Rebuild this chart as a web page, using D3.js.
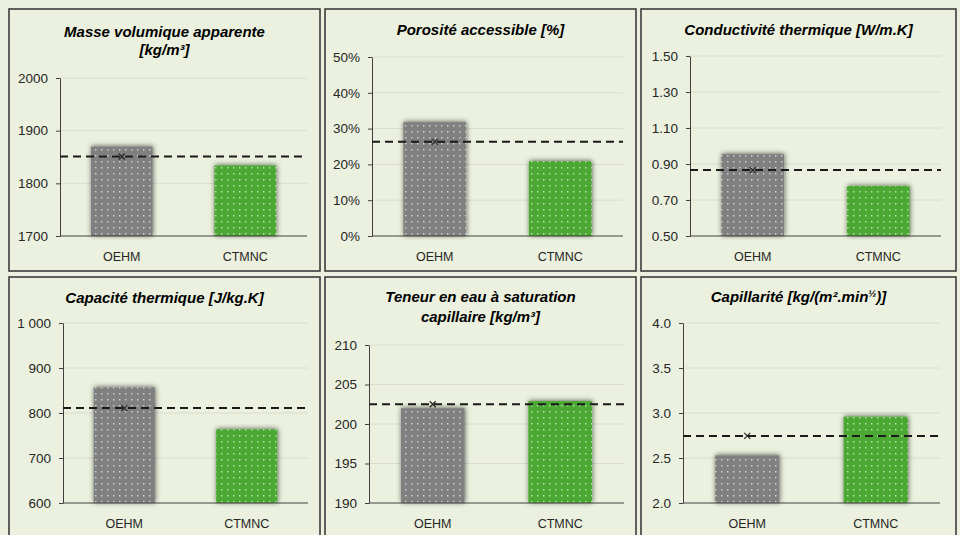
<!DOCTYPE html>
<html>
<head>
<meta charset="utf-8">
<script src="https://cdn.jsdelivr.net/npm/d3@7"></script>
<style>
  html, body { margin: 0; padding: 0; background: #ebf1de; }
  svg { display: block; }
  text { font-family: "Liberation Sans", Arial, sans-serif; }
</style>
</head>
<body>
<svg id="chart" width="960" height="535"></svg>
<script>
// ---------------- DATA ----------------
const categories = ["OEHM", "CTMNC"];

const titles = [
  ["Masse volumique apparente", "[kg/m³]"],
  ["Porosité accessible [%]"],
  ["Conductivité thermique [W/m.K]"],
  ["Capacité thermique [J/kg.K]"],
  ["Teneur en eau à saturation", "capillaire [kg/m³]"],
  ["Capillarité [kg/(m².min", "½", ")]"]
];

const masseVolumique   = [1870, 1834];
const porosite         = [0.318, 0.209];
const conductivite     = [0.955, 0.778];
const capacite         = [857, 764];
const teneurEau        = [202.0, 202.9];
const capillarite      = [2.53, 2.96];

// dashed reference (average) level per chart
const moyennes = [1851, 0.263, 0.866, 811, 202.5, 2.745];

const yTicks1 = [1700, 1800, 1900, 2000];
const yTicks2 = [0, 0.1, 0.2, 0.3, 0.4, 0.5];
const yTicks3 = [0.5, 0.7, 0.9, 1.1, 1.3, 1.5];
const yTicks4 = [600, 700, 800, 900, 1000];
const yTicks5 = [190, 195, 200, 205, 210];
const yTicks6 = [2.0, 2.5, 3.0, 3.5, 4.0];

const seriesValues = [masseVolumique, porosite, conductivite, capacite, teneurEau, capillarite];
const tickSets = [yTicks1, yTicks2, yTicks3, yTicks4, yTicks5, yTicks6];

const frLocale = d3.formatLocale({decimal: ".", thousands: " ", grouping: [3], currency: ["", ""]});
const tickFormats = [
  d3.format("d"),
  d3.format(".0%"),
  d3.format(".2f"),
  frLocale.format(",d"),
  d3.format("d"),
  d3.format(".1f")
];

// ---------------- LAYOUT ----------------
const panels = [
  {x: 9,   y: 9,   w: 311, h: 262, ax: 51, ae: 298, top: 69, bot: 227, ty: [28, 46]},
  {x: 325, y: 9,   w: 311, h: 262, ax: 47, ae: 298, top: 48, bot: 227, ty: [26]},
  {x: 641, y: 9,   w: 315, h: 262, ax: 49, ae: 300, top: 47, bot: 227, ty: [26]},
  {x: 9,   y: 277, w: 311, h: 268, ax: 54, ae: 299, top: 46, bot: 226, ty: [26]},
  {x: 325, y: 277, w: 311, h: 268, ax: 44, ae: 299, top: 68, bot: 226, ty: [25, 45]},
  {x: 641, y: 277, w: 315, h: 268, ax: 42, ae: 299, top: 46, bot: 226, ty: [25]}
];

const barColors = ["#808080", "#4ba833"];

const svg = d3.select("#chart");
svg.append("rect").attr("width", 960).attr("height", 535).attr("fill", "#ebf1de");

const defs = svg.append("defs");
barColors.forEach((c, i) => {
  const p = defs.append("pattern")
    .attr("id", "pat" + i)
    .attr("patternUnits", "userSpaceOnUse")
    .attr("width", 6).attr("height", 6);
  p.append("rect").attr("width", 6).attr("height", 6).attr("fill", c);
  p.append("rect").attr("x", 2).attr("y", 2).attr("width", 1.5).attr("height", 1.5)
    .attr("fill", "#ffffff").attr("fill-opacity", 0.6);
});
const f = defs.append("filter").attr("id", "shadow")
  .attr("x", "-20%").attr("y", "-20%").attr("width", "140%").attr("height", "140%");
f.append("feDropShadow").attr("dx", 0.5).attr("dy", -0.5)
  .attr("stdDeviation", 2.4).attr("flood-color", "#000").attr("flood-opacity", 0.6);

panels.forEach((P, k) => {
  const g = svg.append("g").attr("transform", `translate(${P.x},${P.y})`);

  // panel frame
  g.append("rect").attr("x", 0).attr("y", 0).attr("width", P.w).attr("height", P.h)
    .attr("fill", "#ebf1de").attr("stroke", "#3c3c3c").attr("stroke-width", 1.6);

  const ticks = tickSets[k];
  const y = d3.scaleLinear().domain([ticks[0], ticks[ticks.length - 1]]).range([P.bot, P.top]);
  const x = d3.scaleBand().domain(categories).range([P.ax, P.ae])
    .paddingInner(0.5).paddingOuter(0.25);

  // gridlines
  g.append("g").selectAll("line").data(ticks.slice(1)).join("line")
    .attr("x1", P.ax).attr("x2", P.ae)
    .attr("y1", d => y(d)).attr("y2", d => y(d))
    .attr("stroke", "#d9dccf").attr("stroke-width", 1);

  // y axis
  const yAxis = d3.axisLeft(y).tickValues(ticks).tickFormat(tickFormats[k])
    .tickSizeInner(4).tickSizeOuter(0).tickPadding(8);
  const ya = g.append("g").attr("transform", `translate(${P.ax},0)`).call(yAxis);
  ya.select(".domain").attr("stroke", "#404040");
  ya.selectAll(".tick line").attr("stroke", "#404040");
  ya.selectAll(".tick text").attr("fill", "#262626")
    .style("font-size", "13.5px").style("font-family", "'Liberation Sans', Arial, sans-serif");

  // bars
  const vals = seriesValues[k];
  g.append("g").selectAll("rect").data(categories).join("rect")
    .attr("x", d => x(d)).attr("width", x.bandwidth())
    .attr("y", (d, i) => y(vals[i]))
    .attr("height", (d, i) => y(ticks[0]) - y(vals[i]))
    .attr("fill", (d, i) => `url(#pat${i})`)
    .attr("filter", "url(#shadow)");

  // x axis line
  g.append("line").attr("x1", P.ax).attr("x2", P.ae)
    .attr("y1", P.bot).attr("y2", P.bot)
    .attr("stroke", "#404040").attr("stroke-width", 1);

  // x labels
  g.append("g").selectAll("text").data(categories).join("text")
    .attr("x", d => x(d) + x.bandwidth() / 2)
    .attr("y", P.bot + 25)
    .attr("text-anchor", "middle")
    .attr("fill", "#262626")
    .style("font-size", "12.5px")
    .text(d => d);

  // dashed mean line
  const m = moyennes[k];
  g.append("line").attr("x1", P.ax).attr("x2", P.ae)
    .attr("y1", y(m)).attr("y2", y(m))
    .attr("stroke", "#1a1a1a").attr("stroke-width", 2)
    .attr("stroke-dasharray", "8,5");

  // x marker on first category
  const cx = x(categories[0]) + x.bandwidth() / 2, cy = y(m), s = 3;
  g.append("path")
    .attr("d", `M${cx - s},${cy - s}L${cx + s},${cy + s}M${cx - s},${cy + s}L${cx + s},${cy - s}`)
    .attr("stroke", "#262626").attr("stroke-width", 1.2).attr("fill", "none");

  // title
  const t = titles[k];
  const tg = g.append("g");
  const titleStyle = sel => sel.attr("text-anchor", "middle").attr("fill", "#000")
    .style("font-size", "15px").style("font-weight", "bold").style("font-style", "italic");
  if (k === 5) {
    const tt = tg.append("text").attr("x", P.w / 2).attr("y", P.ty[0]).call(titleStyle);
    tt.append("tspan").text(t[0]);
    tt.append("tspan").attr("dy", -5).style("font-size", "9.5px").text(t[1]);
    tt.append("tspan").attr("dy", 5).text(t[2]);
  } else {
    t.forEach((line, j) => {
      tg.append("text").attr("x", P.w / 2).attr("y", P.ty[j]).call(titleStyle).text(line);
    });
  }
});
</script>
</body>
</html>
